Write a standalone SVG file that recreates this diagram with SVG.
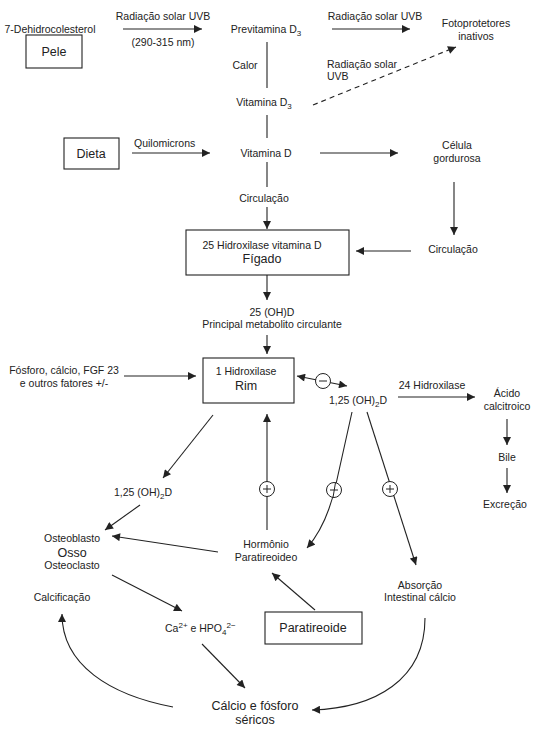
<svg xmlns="http://www.w3.org/2000/svg" width="548" height="734" viewBox="0 0 548 734">
<style>
.t{font-family:"Liberation Sans",Arial,sans-serif;font-size:10.5px;fill:#222;text-anchor:middle}
.s{text-anchor:start}
.b{font-size:12.5px}
.box{fill:#fff;stroke:#222;stroke-width:1.1}
.ln{fill:none;stroke:#222;stroke-width:1.1}
.ar{marker-end:url(#ah)}
.dash{stroke-dasharray:5 4}
.sign{fill:#fff;stroke:#222;stroke-width:1}
.op{stroke:#222;stroke-width:1;fill:none}
</style>
<defs>
<marker id="ah" viewBox="0 0 10 10" refX="10" refY="5" markerWidth="9" markerHeight="8" orient="auto-start-reverse" markerUnits="userSpaceOnUse">
<path d="M0,0 L10,5 L0,10 z" fill="#222"/>
</marker>
</defs>
<rect width="548" height="734" fill="#fff"/>

<g id="connectors">
<path class="ln ar" d="M123,29 L202,29"/>
<path class="ln" d="M267,42 L267,88"/>
<path class="ln" d="M267,115 L267,138"/>
<path class="ln" d="M267,162 L267,187"/>
<path class="ln ar" d="M267,207 L267,229"/>
<path class="ln ar" d="M332,29 L410,29"/>
<path class="ln ar dash" d="M313,105 L456,47"/>
<path class="ln ar" d="M132,153 L210,153"/>
<path class="ln ar" d="M320,153 L398,153"/>
<path class="ln ar" d="M454,182 L454,235"/>
<path class="ln ar" d="M411,251 L356,251"/>
<path class="ln ar" d="M267,275 L267,300"/>
<path class="ln ar" d="M267,335 L267,354"/>
<path class="ln ar" d="M124,376 L196,376"/>
<path class="ln ar" d="M297,376 L347,386" marker-start="url(#ah)"/>
<path class="ln ar" d="M398,397 L475,397"/>
<path class="ln ar" d="M507,419 L507,445"/>
<path class="ln ar" d="M507,468 L507,493"/>
<path class="ln ar" d="M213,415 L163,478"/>
<path class="ln ar" d="M140,505 L105,530"/>
<path class="ln ar" d="M218,552 L112,536"/>
<path class="ln ar" d="M267,530 L267,414"/>
<path class="ln ar" d="M352,412 L336,484 Q327,525 307,548"/>
<path class="ln ar" d="M367,412 L416,565"/>
<path class="ln ar" d="M315,610 L272,573"/>
<path class="ln ar" d="M112,575 L182,611"/>
<path class="ln ar" d="M202,644 L245,688"/>
<path class="ln ar" d="M425,618 C425,680 375,708 312,710"/>
<path class="ln ar" d="M173,707 C110,695 62,665 62,614"/>
</g>

<g id="sign-minus-1"><circle class="sign" cx="323" cy="381" r="7.5"/><path class="op" d="M319,381 L327,381"/></g>
<g id="sign-plus-1"><circle class="sign" cx="267" cy="489" r="7.5"/><path class="op" d="M263,489 L271,489 M267,485 L267,493"/></g>
<g id="sign-minus-2"><circle class="sign" cx="334" cy="490" r="7.5"/><path class="op" d="M330,490 L338,490 M335.5,482.5 L333,497.5"/></g>
<g id="sign-plus-2"><circle class="sign" cx="390" cy="489" r="7.5"/><path class="op" d="M386,489 L394,489 M390,485 L390,493"/></g>

<g id="n-dehidro"><text class="t" x="50" y="33">7-Dehidrocolesterol</text></g>
<g id="n-pele"><rect class="box" x="26" y="35" width="56" height="33"/><text class="t b" x="54" y="56">Pele</text></g>
<g id="l-uvb1"><text class="t" x="163" y="20">Radiação solar UVB</text><text class="t" x="163" y="46">(290-315 nm)</text></g>
<g id="n-previt"><text class="t" x="266" y="33">Previtamina D<tspan font-size="8" dy="3">3</tspan></text></g>
<g id="l-calor"><text class="t" x="245" y="69">Calor</text></g>
<g id="n-vitd3"><text class="t" x="264" y="106">Vitamina D<tspan font-size="8" dy="3">3</tspan></text></g>
<g id="l-uvb2"><text class="t" x="375" y="20">Radiação solar UVB</text></g>
<g id="n-foto"><text class="t" x="476" y="27">Fotoprotetores</text><text class="t" x="476" y="40">inativos</text></g>
<g id="l-uvb3"><text class="t s" x="327" y="68">Radiação solar</text><text class="t s" x="327" y="80">UVB</text></g>
<g id="n-dieta"><rect class="box" x="64" y="138" width="55" height="31"/><text class="t b" x="91" y="158">Dieta</text></g>
<g id="l-quilo"><text class="t s" x="134" y="147">Quilomicrons</text></g>
<g id="n-vitd"><text class="t" x="266" y="157">Vitamina D</text></g>
<g id="n-celula"><text class="t" x="457" y="149">Célula</text><text class="t" x="457" y="162">gordurosa</text></g>
<g id="l-circ1"><text class="t" x="264" y="202">Circulação</text></g>
<g id="n-circ2"><text class="t" x="453" y="253">Circulação</text></g>
<g id="n-figado"><rect class="box" x="186" y="230" width="163" height="45"/><text class="t" x="262" y="249">25 Hidroxilase vitamina D</text><text class="t b" x="262" y="263">Fígado</text></g>
<g id="n-25oh"><text class="t" x="272" y="316">25 (OH)D</text><text class="t" x="272" y="328">Principal metabolito circulante</text></g>
<g id="n-fosforo"><text class="t" x="64" y="374">Fósforo, cálcio, FGF 23</text><text class="t" x="64" y="387">e outros fatores +/-</text></g>
<g id="n-rim"><rect class="box" x="203" y="358" width="91" height="45"/><text class="t" x="246" y="375">1 Hidroxilase</text><text class="t b" x="246" y="390">Rim</text></g>
<g id="n-125a"><text class="t" x="358" y="404">1,25 (OH)<tspan font-size="8" dy="3">2</tspan><tspan dy="-3">D</tspan></text></g>
<g id="l-24h"><text class="t" x="432" y="389">24 Hidroxilase</text></g>
<g id="n-acido"><text class="t" x="507" y="397">Ácido</text><text class="t" x="507" y="410">calcitroico</text></g>
<g id="n-bile"><text class="t" x="507" y="461">Bile</text></g>
<g id="n-excrecao"><text class="t" x="505" y="508">Excreção</text></g>
<g id="n-125b"><text class="t" x="143" y="496">1,25 (OH)<tspan font-size="8" dy="3">2</tspan><tspan dy="-3">D</tspan></text></g>
<g id="n-osso"><text class="t" x="72" y="542">Osteoblasto</text><text class="t b" x="72" y="557">Osso</text><text class="t" x="72" y="569">Osteoclasto</text></g>
<g id="n-hormonio"><text class="t" x="266" y="548">Hormônio</text><text class="t" x="266" y="561">Paratireoideo</text></g>
<g id="n-absorcao"><text class="t" x="420" y="589">Absorção</text><text class="t" x="420" y="601">Intestinal cálcio</text></g>
<g id="n-calcificacao"><text class="t" x="62" y="601">Calcificação</text></g>
<g id="n-ca"><text class="t s" x="165" y="632">Ca<tspan font-size="8" dy="-4">2+</tspan><tspan dy="4"> e HPO</tspan><tspan font-size="8" dy="3">4</tspan><tspan font-size="8" dy="-7">2−</tspan></text></g>
<g id="n-paratireoide"><rect class="box" x="265" y="612" width="97" height="32"/><text class="t b" x="313" y="632">Paratireoide</text></g>
<g id="n-calcio"><text class="t b" x="255" y="710">Cálcio e fósforo</text><text class="t b" x="255" y="724">séricos</text></g>
</svg>
